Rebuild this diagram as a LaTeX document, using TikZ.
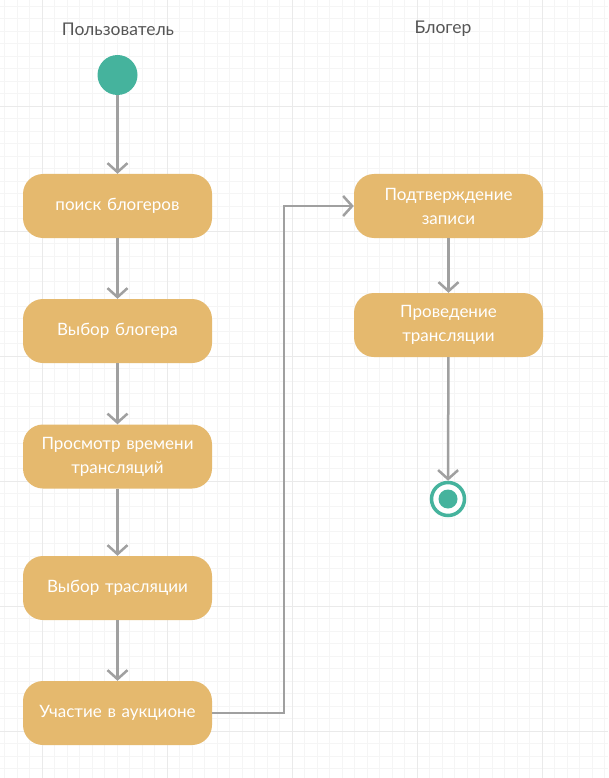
\documentclass[tikz,border=0pt]{standalone}
\usepackage{fontspec}
\setmainfont{Lato}
\usepackage{tikz}
\usetikzlibrary{arrows.meta,positioning}
\definecolor{actfill}{HTML}{E5B96E}
\definecolor{teal}{HTML}{45B39D}
\definecolor{flowgray}{HTML}{A0A0A0}
\definecolor{gridminor}{HTML}{F5F5F5}
\definecolor{gridmajor}{HTML}{EAEAEA}
\definecolor{lanetext}{HTML}{555555}
\begin{document}
\begin{tikzpicture}[x=1pt,y=-1pt,
	>={Straight Barb[length=9pt,width=20pt]},
	activity/.style={fill=actfill,rounded corners=20pt,minimum width=189pt,minimum height=64pt,
		text width=162pt,align=center,text=white,font=\fontsize{17}{24}\selectfont},
	lane/.style={text=lanetext,font=\fontsize{17.5}{20}\selectfont},
	flow/.style={->,draw=flowgray,line width=2.5pt}]
\useasboundingbox (0,0) rectangle (608,778);
\fill[white] (0,0) rectangle (608,778);
% background grid
\foreach \gx in {4.8,17.3,...,608} \draw[gridminor,line width=0.8pt] (\gx,0) -- (\gx,778);
\foreach \gy in {6,18.5,...,778} \draw[gridminor,line width=0.8pt] (0,\gy) -- (608,\gy);
\foreach \gx in {42.3,167.3,...,608} \draw[gridmajor,line width=0.8pt] (\gx,0) -- (\gx,778);
\foreach \gy in {106,231,...,778} \draw[gridmajor,line width=0.8pt] (0,\gy) -- (608,\gy);

% swimlane titles
\node[lane] (userlane) at (118,29) {Пользователь};
\node[lane] (bloglane) at (443,29) {Блогер};

% user
\node[circle,fill=teal,minimum size=40pt,inner sep=0pt] (start) at (117.5,75) {};
\node[activity] (search) at (117.5,206) {поиск блогеров};
\node[activity] (choose) at (117.5,331) {Выбор блогера};
\node[activity] (times) at (117.5,456.5) {Просмотр времени трансляций};
\node[activity] (stream) at (117.5,588) {Выбор трасляции};
\node[activity] (auction) at (117.5,713) {Участие в аукционе};

% blogger
\node[activity] (confirm) at (448.5,206) {Подтверждение записи};
\node[activity] (broadcast) at (448.5,325) {Проведение трансляции};
\node[circle,draw=teal,line width=3.5pt,fill=white,minimum size=33pt,inner sep=0pt] (finish) at (448,499) {};
\fill[teal] (finish.center) circle (9.5pt);

\draw[flow] (start) -- (search);
\draw[flow] (search) -- (choose);
\draw[flow] (choose) -- (times);
\draw[flow] (times) -- (stream);
\draw[flow] (stream) -- (auction);
\draw[flow] (auction.east) -- ([xshift=72pt]auction.east) |- (confirm.west);
\draw[flow] (confirm) -- (broadcast);
\draw[flow] (broadcast) -- (finish);
\end{tikzpicture}
\end{document}
